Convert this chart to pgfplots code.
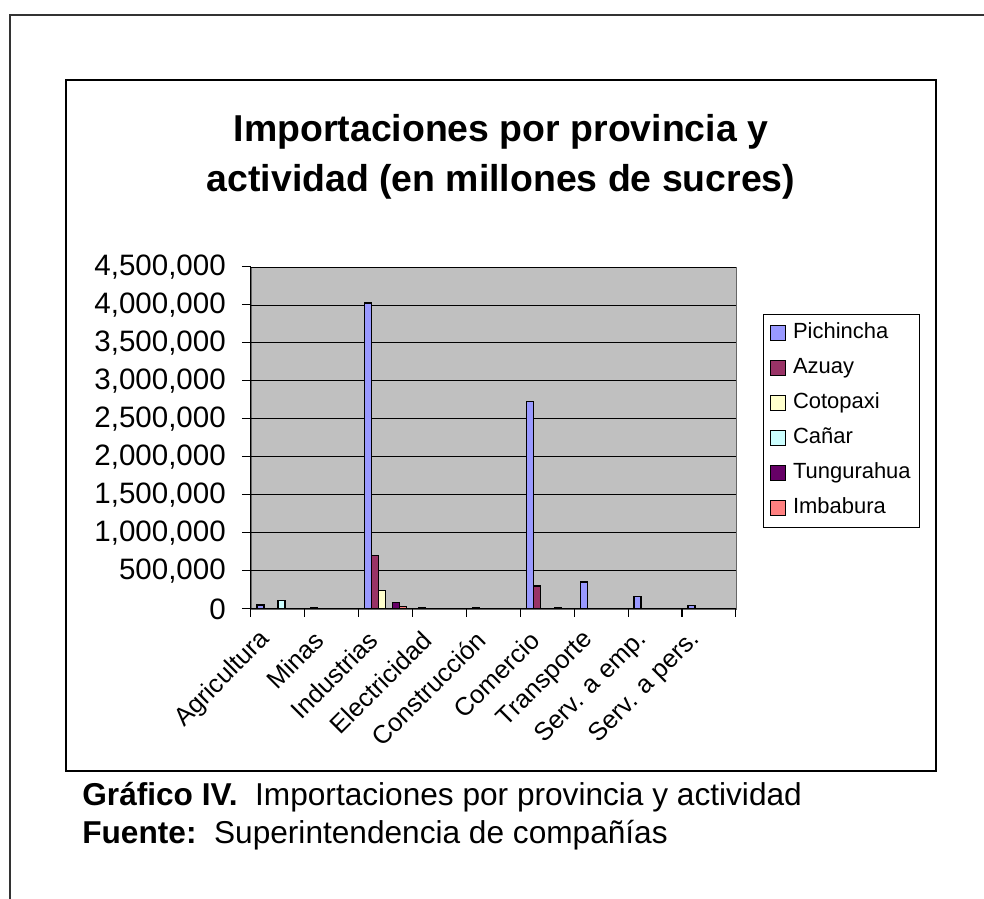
\documentclass[border=0pt]{standalone}
\usepackage{fontspec}
\setmainfont{Liberation Sans}
\usepackage{pgfplots}
\pgfplotsset{compat=1.18}
\definecolor{pichincha}{HTML}{9999FF}
\definecolor{azuay}{HTML}{993366}
\definecolor{cotopaxi}{HTML}{FFFFCC}
\definecolor{canar}{HTML}{CCFFFF}
\definecolor{tungurahua}{HTML}{660066}
\definecolor{imbabura}{HTML}{FF8080}
\definecolor{plotgray}{HTML}{C0C0C0}
\begin{document}
\begin{tikzpicture}
% frame, titles and footer in pixels of the reference, y down
\begin{scope}[x=0.02cm,y=-0.02cm]
\useasboundingbox[fill=white] (0,0) rectangle (984,899);
\draw[line width=0.045cm, black!80] (10,899) -- (10,15) -- (984,15);
\draw[black, line width=0.025cm] (66,80) rectangle (936,771);
\node[anchor=base, font=\bfseries\fontsize{21.3}{26}\selectfont] at (501,141.7) {Importaciones por provincia y};
\node[anchor=base, font=\bfseries\fontsize{21.3}{26}\selectfont] at (501,191.7) {actividad (en millones de sucres)};
\node[anchor=base west, inner sep=0pt, font=\fontsize{18}{22}\selectfont] at (82,805) {\textbf{Gráfico IV.}\ \ Importaciones por provincia y actividad};
\node[anchor=base west, inner sep=0pt, font=\fontsize{18}{22}\selectfont] at (82,843) {\textbf{Fuente:}\ \ Superintendencia de compañías};
\end{scope}
\begin{axis}[
  at={(5.02cm,-12.18cm)}, anchor=south west,
  scale only axis, width=9.70cm, height=6.84cm,
  xmin=-0.5, xmax=8.5, ymin=0, ymax=4500000,
  axis x line*=bottom, axis y line*=left,
  axis line style={black, line width=0.6pt},
  axis background/.style={fill=plotgray, draw=black!60},
  ybar=0pt, bar width=0.14cm,
  xtick={0,...,8},
  xticklabels={Agricultura, Minas, Industrias, Electricidad, Construcción, Comercio, Transporte, Serv. a emp., Serv. a pers.},
  major x tick style={draw=none},
  minor xtick={-0.5,0.5,...,8.5},
  minor x tick style={black, line width=0.6pt},
  tick align=outside,
  minor tick length=0.16cm, major tick length=0.18cm,
  ytick={0,500000,...,4500000},
  ytick style={black, line width=0.6pt},
  ymajorgrids, grid style={black, line width=0.5pt},
  scaled y ticks=false,
  /pgf/number format/fixed, /pgf/number format/1000 sep={,},
  /pgf/number format/assume math mode=true,
  y tick label style={font=\fontsize{16.8}{20}\selectfont, xshift=-0.2cm},
  x tick label style={xshift=-0.16cm, yshift=-0.28cm, rotate=45, anchor=east, font=\fontsize{14.5}{17}\selectfont},
  legend style={at={(1.0557,0.8626)}, anchor=north west, draw=black, fill=white,
    font=\fontsize{12.5}{15}\selectfont, row sep=6.4pt, inner xsep=4pt, inner ysep=4pt,
    nodes={inner sep=1pt, text height=9pt, text depth=2.5pt},
    /tikz/every odd column/.append style={column sep=0.1cm}},
  legend cell align=left,
  legend image code/.code={\draw[#1, line width=0.6pt] (0cm,-0.15cm) rectangle (0.3cm,0.15cm);},
  every axis plot/.append style={draw=black, line width=0.7pt},
]
\addplot[fill=pichincha] coordinates {(0,50000) (1,15000) (2,4025000) (3,15000) (4,15000) (5,2730000) (6,355000) (7,160000) (8,45000)};
\addlegendentry{Pichincha}
\addplot[fill=azuay] coordinates {(2,705000) (5,300000)};
\addlegendentry{Azuay}
\addplot[fill=cotopaxi] coordinates {(2,245000)};
\addlegendentry{Cotopaxi}
\addplot[fill=canar] coordinates {(0,110000)};
\addlegendentry{Cañar}
\addplot[fill=tungurahua] coordinates {(2,85000) (5,15000)};
\addlegendentry{Tungurahua}
\addplot[fill=imbabura] coordinates {(2,30000)};
\addlegendentry{Imbabura}
\end{axis}
\end{tikzpicture}
\end{document}
